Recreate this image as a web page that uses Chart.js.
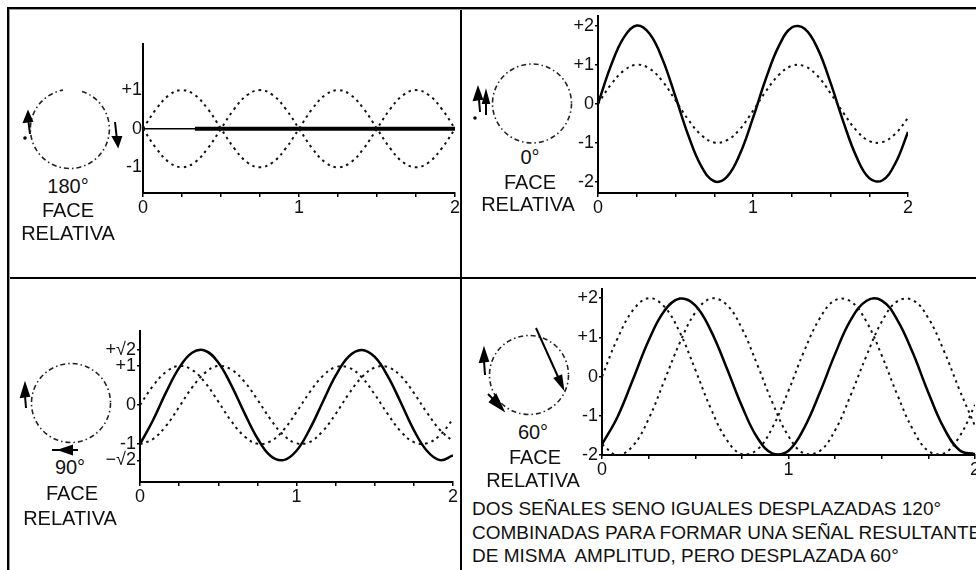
<!DOCTYPE html>
<html><head><meta charset="utf-8">
<script src="https://cdn.jsdelivr.net/npm/chart.js@4.4.1/dist/chart.umd.min.js"></script>
<style>
html,body{margin:0;padding:0;width:976px;height:570px;overflow:hidden;background:#fff;}
body{position:relative;font-family:"Liberation Sans",Arial,sans-serif;color:#111;}
canvas.cv{position:absolute;}
.lbl{position:absolute;font-size:20px;line-height:20px;transform:translate(-50%,-50%);white-space:nowrap;}
.note{position:absolute;left:472px;font-size:19px;line-height:19px;white-space:pre;transform:translateY(-50%);}
svg{position:absolute;left:0;top:0;}
</style></head><body>
<svg width="976" height="570">
  <g stroke="#000" stroke-width="2">
    <line x1="7" y1="8" x2="976" y2="8"/>
    <line x1="8" y1="7" x2="8" y2="570"/>
    <line x1="461" y1="7" x2="461" y2="570"/>
    <line x1="7" y1="278" x2="976" y2="278"/>
  </g>
  <g stroke="#999" stroke-width="1">
    <line x1="9" y1="9.5" x2="976" y2="9.5"/>
    <line x1="9.5" y1="9" x2="9.5" y2="570"/>
  </g>
  <g fill="none" stroke="#222" stroke-width="1.6" stroke-dasharray="5 3 1.5 3">
    <path d="M82,91.4 A39.5,39.5 0 1,1 63,90.1"/>
    <circle cx="532" cy="103.5" r="39.5"/>
    <circle cx="71" cy="403" r="39.5"/>
    <circle cx="529" cy="375" r="39.5"/>
  </g>
  <g stroke="#000" stroke-width="2" fill="#000">
    <line x1="30" y1="134" x2="28" y2="118"/>
    <polygon points="28,112 24,122 32,121"/>
    <line x1="115" y1="122" x2="117" y2="140"/>
    <polygon points="118,146 113,137 121,137"/>
    <circle cx="25" cy="138" r="0.8"/>
    <line x1="479" y1="99" x2="480" y2="112"/>
    <polygon points="478,88 474,100 482,99"/>
    <line x1="486" y1="103" x2="486" y2="115"/>
    <polygon points="486,92 483,103 489,103"/>
    <circle cx="475" cy="118" r="0.8"/>
    <line x1="25" y1="396" x2="26" y2="408"/>
    <polygon points="25,384 21,397 29,396"/>
    <line x1="52" y1="450" x2="78" y2="450"/>
    <polygon points="60,450 72,446 72,454"/>
    <line x1="484" y1="361" x2="485" y2="375"/>
    <polygon points="484,349 480,362 488,361"/>
    <line x1="488" y1="394" x2="498" y2="404"/>
    <polygon points="503,410 490,402 496,395"/>
    <line x1="536" y1="328" x2="559" y2="379"/>
    <polygon points="563,388 561.3,375.7 554.9,378.5"/>
  </g>
</svg>
<canvas id="c1" class="cv" width="374" height="191" style="left:93px;top:32px"></canvas>
<canvas id="c2" class="cv" width="372" height="219" style="left:548px;top:4px"></canvas>
<canvas id="c3" class="cv" width="375" height="193" style="left:90px;top:319px"></canvas>
<canvas id="c4" class="cv" width="435" height="208" style="left:552px;top:277px"></canvas>

<div class="lbl" style="left:68px;top:186px">180°</div>
<div class="lbl" style="left:68px;top:210px">FACE</div>
<div class="lbl" style="left:68px;top:233px">RELATIVA</div>
<div class="lbl" style="left:530px;top:157px">0°</div>
<div class="lbl" style="left:530px;top:182px">FACE</div>
<div class="lbl" style="left:528px;top:204px">RELATIVA</div>
<div class="lbl" style="left:70px;top:467px">90°</div>
<div class="lbl" style="left:72px;top:493px">FACE</div>
<div class="lbl" style="left:70px;top:518px">RELATIVA</div>
<div class="lbl" style="left:533px;top:432px">60°</div>
<div class="lbl" style="left:535px;top:457px">FACE</div>
<div class="lbl" style="left:533px;top:480px">RELATIVA</div>
<div class="note" style="top:508px">DOS SEÑALES SENO IGUALES DESPLAZADAS 120°</div>
<div class="note" style="top:532px">COMBINADAS PARA FORMAR UNA SEÑAL RESULTANTE</div>
<div class="note" style="top:555px">DE MISMA  AMPLITUD, PERO DESPLAZADA 60°</div>

<script>
// ---- data ----
const xs = [0, 0.083, 0.167, 0.25, 0.333, 0.417, 0.5, 0.583, 0.667, 0.75, 0.833, 0.917, 1,
            1.083, 1.167, 1.25, 1.333, 1.417, 1.5, 1.583, 1.667, 1.75, 1.833, 1.917, 2];
const xLabelValues = [0, 1, 2];

// Panel 1: 180°
const p1SignalA = [0, 0.5, 0.87, 1, 0.87, 0.5, 0, -0.5, -0.87, -1, -0.87, -0.5, 0, 0.5, 0.87, 1, 0.87, 0.5, 0, -0.5, -0.87, -1, -0.87, -0.5, 0];
const p1SignalB = [0, -0.5, -0.87, -1, -0.87, -0.5, 0, 0.5, 0.87, 1, 0.87, 0.5, 0, -0.5, -0.87, -1, -0.87, -0.5, 0, 0.5, 0.87, 1, 0.87, 0.5, 0];
const p1Sum     = [null, null, null, null, 0, 0, 0, 0, 0, 0, 0, 0, 0, 0, 0, 0, 0, 0, 0, 0, 0, 0, 0, 0, 0];
const p1YTicks  = [-1, 0, 1];
const p1YLabels = ['-1', '0', '+1'];

// Panel 2: 0°
const p2Signal  = [0, 0.49, 0.85, 1.00, 0.90, 0.57, 0.09, -0.41, -0.80, -0.99, -0.93, -0.64, -0.18, 0.32, 0.74, 0.97, 0.96, 0.71, 0.27, -0.23, -0.68, -0.95, -0.98, -0.77, -0.36];
const p2Sum     = [0, 0.97, 1.70, 2.00, 1.79, 1.13, 0.18, -0.81, -1.60, -1.98, -1.86, -1.27, -0.36, 0.64, 1.48, 1.95, 1.92, 1.41, 0.54, -0.46, -1.35, -1.90, -1.96, -1.53, -0.72];
const p2YTicks  = [-2, -1, 0, 1, 2];
const p2YLabels = ['-2', '-1', '0', '+1', '+2'];

// Panel 3: 90°
const p3SignalA = [0, 0.49, 0.85, 1.00, 0.90, 0.57, 0.09, -0.41, -0.80, -0.99, -0.93, -0.64, -0.18, 0.32, 0.74, 0.97, 0.96, 0.71, 0.27, -0.23, -0.68, -0.95, -0.98, -0.77, -0.36];
const p3SignalB = [-1, -0.87, -0.53, -0.05, 0.45, 0.83, 1.00, 0.91, 0.60, 0.14, -0.36, -0.77, -0.98, -0.95, -0.67, -0.23, 0.28, 0.71, 0.96, 0.97, 0.74, 0.31, -0.19, -0.64, -0.93];
const p3Sum     = [-1, -0.39, 0.33, 0.95, 1.34, 1.39, 1.09, 0.51, -0.20, -0.85, -1.30, -1.41, -1.17, -0.63, 0.07, 0.75, 1.24, 1.41, 1.23, 0.74, 0.06, -0.64, -1.17, -1.41, -1.29];
const p3YTicks  = [-1.414, -1, 0, 1, 1.414];
const p3YLabels = ['\u2212\u221A2', '-1', '0', '+1', '+\u221A2'];

// Panel 4: 120° signals, 60° resultant
const p4SignalA = [0, 0.97, 1.70, 2.00, 1.79, 1.13, 0.18, -0.81, -1.60, -1.98, -1.86, -1.27, -0.36, 0.64, 1.48, 1.95, 1.92, 1.41, 0.54, -0.46, -1.35, -1.90, -1.96, -1.53, -0.72];
const p4SignalB = [-1.73, -2.00, -1.76, -1.08, -0.12, 0.86, 1.63, 1.99, 1.84, 1.23, 0.30, -0.70, -1.52, -1.96, -1.90, -1.37, -0.48, 0.52, 1.40, 1.92, 1.95, 1.49, 0.66, -0.34, -1.26];
const p4Sum     = [-1.73, -1.03, -0.06, 0.92, 1.67, 1.99, 1.82, 1.18, 0.24, -0.75, -1.56, -1.97, -1.89, -1.32, -0.42, 0.58, 1.44, 1.93, 1.94, 1.45, 0.60, -0.41, -1.31, -1.88, -1.98];
const p4YTicks  = [-2, -1, 0, 1, 2];
const p4YLabels = ['-2', '-1', '0', '+1', '+2'];

// ---- drawing ----
Chart.defaults.font.family = '"Liberation Sans", Arial, sans-serif';
Chart.defaults.font.size = 18;
Chart.defaults.color = '#111';

const pts = arr => xs.map((x, i) => ({x: x, y: arr[i]}));
const dotted = arr => ({data: pts(arr), borderColor: '#111', borderWidth: 2, borderDash: [2.5, 4], fill: false, pointRadius: 0});
const solid = (arr, w) => ({data: pts(arr), borderColor: '#000', borderWidth: w || 2.5, fill: false, pointRadius: 0});

function makeChart(id, c) {
  const isInt = v => Math.abs(v - Math.round(v)) < 1e-6;
  return new Chart(document.getElementById(id), {
    type: 'line',
    data: {datasets: c.datasets},
    options: {
      responsive: false, animation: false, devicePixelRatio: 1,
      layout: {padding: {top: c.padTop, right: c.padRight, left: 0, bottom: 0}},
      plugins: {legend: {display: false}, tooltip: {enabled: false}},
      elements: {point: {radius: 0}, line: {tension: 0.4}},
      scales: {
        x: {
          type: 'linear', min: 0, max: 2,
          border: {display: true, color: '#000', width: 2},
          grid: {display: true, drawOnChartArea: false, drawTicks: true, tickLength: 4, color: '#000', lineWidth: 1.5},
          ticks: {stepSize: 0.25, autoSkip: false, maxRotation: 0, padding: 0,
                  callback: v => (isInt(v) && xLabelValues.includes(Math.round(v))) ? String(Math.round(v)) : ''},
          afterFit: s => { s.height = c.xH; }
        },
        y: {
          type: 'linear', min: c.yMin, max: c.yMax,
          border: {display: true, color: '#000', width: 2},
          grid: c.zeroLine
            ? {display: true, drawOnChartArea: true, drawTicks: false, lineWidth: 1.5,
               color: ctx => (ctx.tick && ctx.tick.value === 0) ? '#000' : 'rgba(0,0,0,0)'}
            : {display: true, drawOnChartArea: false, drawTicks: true, tickLength: 3, color: '#000', lineWidth: 1.5},
          afterBuildTicks: s => { s.ticks = c.yTicks.map(v => ({value: v})); },
          ticks: {autoSkip: false, padding: 1, callback: (v, i) => c.yLabels[i]},
          afterFit: s => { s.width = c.yW; }
        }
      }
    }
  });
}

makeChart('c1', {
  datasets: [dotted(p1SignalA), dotted(p1SignalB), solid(p1Sum, 4)],
  yMin: -1.667, yMax: 2.2, yTicks: p1YTicks, yLabels: p1YLabels, zeroLine: true,
  yW: 50, xH: 30, padTop: 10, padRight: 12
});
makeChart('c2', {
  datasets: [dotted(p2Signal), solid(p2Sum)],
  yMin: -2.28, yMax: 2.25, yTicks: p2YTicks, yLabels: p2YLabels,
  yW: 50, xH: 30, padTop: 10, padRight: 12
});
makeChart('c3', {
  datasets: [dotted(p3SignalA), dotted(p3SignalB), solid(p3Sum)],
  yMin: -1.97, yMax: 1.9, yTicks: p3YTicks, yLabels: p3YLabels,
  yW: 50, xH: 30, padTop: 10, padRight: 12
});
makeChart('c4', {
  datasets: [dotted(p4SignalA), dotted(p4SignalB), solid(p4Sum)],
  yMin: -2.0, yMax: 2.24, yTicks: p4YTicks, yLabels: p4YLabels,
  yW: 50, xH: 30, padTop: 10, padRight: 12
});
</script>
</body></html>
